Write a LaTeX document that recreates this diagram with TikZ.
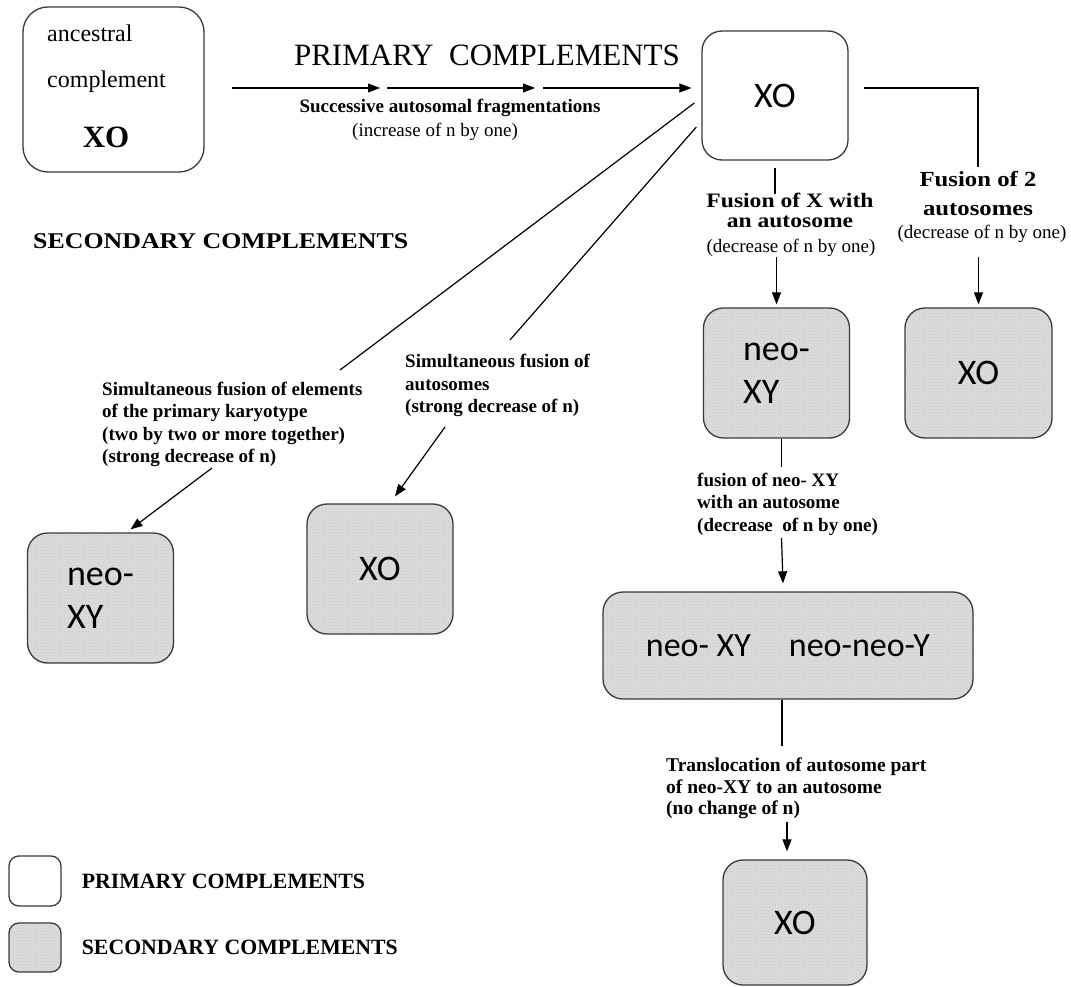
\documentclass[tikz,border=0pt]{standalone}
\usepackage{fontspec}
\setmainfont{Liberation Serif}
\newfontfamily\boxfont{Carlito}
\newfontfamily\wideserif[FakeStretch=1.15]{Liberation Serif}
\usetikzlibrary{positioning,arrows.meta,calc,patterns}
\definecolor{edge}{HTML}{3A3A3A}
\definecolor{speckle}{HTML}{DCDCDC}
\newcommand{\stepfont}{\bfseries\fontsize{19}{22.5}\selectfont}
\newcommand{\ratefont}{\fontsize{19}{22.5}\selectfont}

\begin{document}
\begin{tikzpicture}[x=1pt, y=-1pt,
    prim/.style={draw=edge, line width=1.3pt, rounded corners=20pt, minimum width=146pt, minimum height=130pt, inner sep=0pt, align=left, font=\boxfont\fontsize{36}{43}\selectfont},
    sec/.style={prim, preaction={fill=speckle}, pattern=crosshatch dots, pattern color=black!22},
    txt/.style={inner sep=0pt},
    lbl/.style={inner sep=0pt, align=left, font=\stepfont},
    head/.style={inner sep=0pt, align=center, font=\wideserif\bfseries\fontsize{20.5}{20}\selectfont},
    arr/.style={-{Triangle[length=12pt,width=9pt]}, line width=1.2pt},
    ln/.style={line width=1.2pt}
]
    \useasboundingbox (0,0) rectangle (1071,987);

    % primary complements
    \node[prim, rounded corners=25pt, minimum width=181pt, minimum height=165pt] (anc) at (113.5,89.5) {};
    \node[txt, anchor=west, font=\fontsize{24}{24}\selectfont] (ancA) at (47,33.5) {ancestral};
    \node[txt, anchor=west, font=\fontsize{24}{24}\selectfont] (ancB) at (47,82) {complement};
    \node[txt, font=\bfseries\fontsize{31}{31}\selectfont] (ancX) at (106,137) {XO};
    \node[prim, minimum height=129pt] (prim) at (775,95.5) {XO};
    \node[txt, font=\fontsize{31}{31}\selectfont] (title) at (487,55) {PRIMARY\ \ COMPLEMENTS};

    \coordinate (h0) at (232,88);
    \coordinate (h1) at (380,88);
    \coordinate (h2) at (387,88);
    \coordinate (h3) at (535,88);
    \coordinate (h4) at (543,88);
    \draw[arr] (h0) -- (h1);
    \draw[arr] (h2) -- (h3);
    \draw[arr, shorten >=10pt] (h4) -- (prim.west |- h4);
    \node[lbl] (frag) at (450,108) {Successive autosomal fragmentations};
    \node[txt, font=\ratefont] (fragn) at (435,132) {(increase of n by one)};

    % secondary complements
    \node[txt, anchor=west, font=\wideserif\bfseries\fontsize{22.5}{22.5}\selectfont] (sechd) at (33,241) {SECONDARY COMPLEMENTS};
    \node[sec] (neoxy) at (776.5,373) {neo-\\XY};
    \node[sec, minimum width=147pt] (xoR) at (978.5,373) {XO};
    \node[sec] (neoxyL) at (100.5,598) {neo-\\XY};
    \node[sec] (xoM) at (380,569) {XO};
    \node[sec, minimum width=370pt, minimum height=107pt, font=\boxfont\fontsize{34}{40}\selectfont] (neoY) at (788,645.5) {neo- XY\hspace{38pt}neo-neo-Y};
    \node[sec, minimum width=144pt, minimum height=125pt] (xoB) at (795,922.5) {XO};

    \node[head] (fx) at (790,210) {Fusion of X with\\an autosome};
    \node[txt, font=\ratefont] (fxn) at (791,248) {(decrease of n by one)};
    \node[head, font=\wideserif\bfseries\fontsize{21.5}{29}\selectfont] (f2) at (978,193.3) {Fusion of 2\\autosomes};
    \node[txt, font=\ratefont] (f2n) at (982,234) {(decrease of n by one)};
    \node[lbl, anchor=west] (lfuse) at (102,424.4) {Simultaneous fusion of elements\\of the primary karyotype\\(two by two or more together)\\(strong decrease of n)};
    \node[lbl, anchor=west] (mfuse) at (405,385.5) {Simultaneous fusion of\\autosomes\\(strong decrease of n)};
    \node[lbl, anchor=west] (nfuse) at (697,504) {fusion of neo- XY\\with an autosome\\(decrease\ \ of n by one)};
    \node[lbl, anchor=west, font=\bfseries\fontsize{19.5}{21.5}\selectfont] (trans) at (666,788.5) {Translocation of autosome part\\of neo-XY to an autosome\\(no change of n)};

    % connectors
    \coordinate (d1) at (340,370);
    \coordinate (d2) at (510,340);
    \coordinate (a1) at (212,468);
    \coordinate (a2) at (445,427);
    \draw[ln] ([shift={(-7,7.5)}]prim.west) -- (d1);
    \draw[ln] ([shift={(-5,31.5)}]prim.west) -- (d2);
    \draw[arr] (a1) -- ([xshift=30pt, yshift=3pt]neoxyL.north);
    \draw[arr] (a2) -- ([xshift=15pt, yshift=7pt]xoM.north);

    \draw[ln] ([yshift=-7pt]prim.south) -- ([yshift=-2pt]prim.south |- fx.north);
    \draw[arr] (fxn.south -| neoxy.north) -- ([yshift=3pt]neoxy.north);
    \draw[ln] ([xshift=15pt, yshift=7.5pt]prim.east) -| ([yshift=4pt]f2.north);
    \draw[arr] ([yshift=-14pt]f2n.south -| xoR.north) -- ([yshift=3pt]xoR.north);

    \draw[ln] ([xshift=5pt]neoxy.south) -- ([xshift=5pt, yshift=6pt]neoxy.south |- nfuse.north);
    \draw[arr] ([xshift=5pt, yshift=-2.5pt]neoxy.south |- nfuse.south) -- ([xshift=-5pt, yshift=8pt]neoY.north);
    \draw[ln] ([xshift=-6pt]neoY.south) -- ([xshift=-6pt, yshift=12pt]neoY.south |- trans.north);
    \draw[arr] ([xshift=-8pt, yshift=-3pt]xoB.north |- trans.south) -- ([xshift=-8pt, yshift=8pt]xoB.north);

    % legend
    \node[prim, rounded corners=10pt, minimum width=52pt, minimum height=50pt] (legP) at (35,881) {};
    \node[sec, rounded corners=10pt, minimum width=52pt, minimum height=49pt] (legS) at (35,947.5) {};
    \node[txt, right=20pt of legP, font=\bfseries\fontsize{21.8}{21.8}\selectfont] (legPt) {PRIMARY COMPLEMENTS};
    \node[txt, right=20pt of legS, font=\bfseries\fontsize{21.8}{21.8}\selectfont] (legSt) {SECONDARY COMPLEMENTS};
\end{tikzpicture}
\end{document}
